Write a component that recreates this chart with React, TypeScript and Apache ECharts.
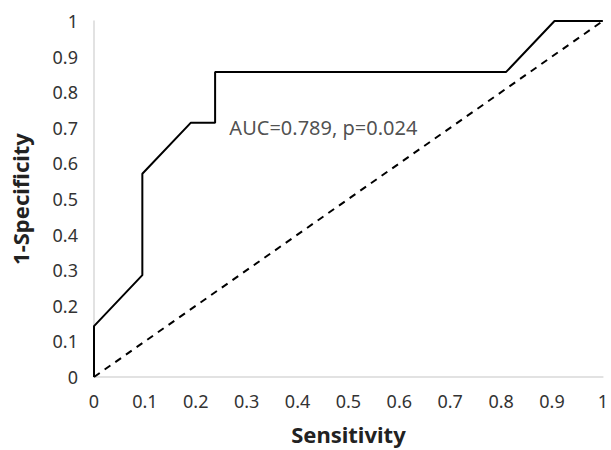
import React, { useEffect, useRef } from "react";
import * as echarts from "echarts";

const rocX = [0, 0, 0.095, 0.095, 0.19, 0.238, 0.238, 0.81, 0.905, 1];
const rocY = [0, 0.143, 0.286, 0.571, 0.714, 0.714, 0.857, 0.857, 1, 1];
const refX = [0, 1];
const refY = [0, 1];
const annotation = "AUC=0.789, p=0.024";
const annotationAt = [0.265, 0.7];
const xTitle = "Sensitivity";
const yTitle = "1-Specificity";

const FONT = "Noto Sans";

export default function App() {
  const ref = useRef<HTMLDivElement>(null);
  useEffect(() => {
    document.body.style.margin = "0";
    const chart = echarts.init(ref.current!, null, { renderer: "svg" });
    const fmt = (v: number) => String(Math.round(v * 10) / 10);
    chart.setOption({
      animation: false,
      textStyle: { fontFamily: FONT },
      grid: { left: 94, right: 4, top: 21, bottom: 67, containLabel: false },
      xAxis: {
        type: "value",
        min: 0,
        max: 1,
        interval: 0.1,
        name: xTitle,
        nameLocation: "middle",
        nameGap: 46,
        nameTextStyle: { fontFamily: FONT, fontWeight: "bold", fontSize: 22, color: "#222" },
        axisLine: { show: true, onZero: false, lineStyle: { color: "#d9d9d9", width: 1.5 } },
        axisTick: { show: false },
        splitLine: { show: false },
        axisLabel: { formatter: fmt, fontFamily: FONT, fontSize: 18, color: "#333", margin: 15 },
      },
      yAxis: {
        type: "value",
        min: 0,
        max: 1,
        interval: 0.1,
        name: yTitle,
        nameLocation: "middle",
        nameGap: 63,
        nameRotate: 90,
        nameTextStyle: { fontFamily: FONT, fontWeight: "bold", fontSize: 22, color: "#222" },
        axisLine: { show: true, onZero: false, lineStyle: { color: "#d9d9d9", width: 1.5 } },
        axisTick: { show: false },
        splitLine: { show: false },
        axisLabel: { formatter: fmt, fontFamily: FONT, fontSize: 18, color: "#333", margin: 16 },
      },
      series: [
        {
          type: "line",
          data: refX.map((x, i) => [x, refY[i]]),
          symbol: "none",
          lineStyle: { color: "#000", width: 2, type: [7, 6] },
          z: 2,
        },
        {
          type: "line",
          data: rocX.map((x, i) => [x, rocY[i]]),
          symbol: "none",
          lineStyle: { color: "#000", width: 2 },
          z: 3,
        },
        {
          type: "scatter",
          data: [annotationAt],
          symbolSize: 1,
          itemStyle: { color: "rgba(0,0,0,0)" },
          silent: true,
          label: {
            show: true,
            formatter: annotation,
            position: "right",
            distance: 0,
            fontFamily: FONT,
            fontSize: 20,
            color: "#222",
          },
          z: 4,
        },
      ],
    });
    return () => chart.dispose();
  }, []);
  return <div ref={ref} style={{ width: 611, height: 450 }} />;
}
